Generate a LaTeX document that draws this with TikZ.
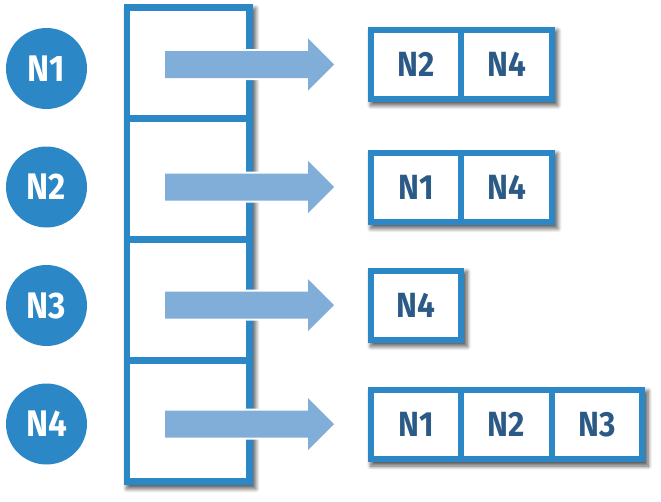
\documentclass[tikz,border=0pt]{standalone}
\usepackage{fontspec}
\setmainfont{Fira Sans}[FakeStretch=0.9]
\usetikzlibrary{shadows.blur, backgrounds}
\definecolor{lineblue}{HTML}{2B87C5}
\definecolor{textblue}{HTML}{2C5A87}
\definecolor{arrowblue}{HTML}{80AED8}
\tikzset{
  soft shadow/.style={blur shadow={shadow xshift=3pt, shadow yshift=-4pt,
      shadow blur radius=4pt, shadow blur steps=8, shadow opacity=65}},
  shadowbase/.style={fill=white, soft shadow},
  vertex/.style={circle, fill=lineblue, minimum size=81pt, inner sep=0pt,
      text=white, font=\fontsize{37}{37}\selectfont\bfseries},
  slot/.style={rectangle, draw=lineblue, line width=6.5pt, fill=white,
      minimum width=122.5pt, inner sep=0pt},
  entry/.style={rectangle, draw=lineblue, line width=6pt, fill=white,
      minimum width=90.5pt, minimum height=69pt, inner sep=0pt,
      text=textblue, font=\fontsize{35}{35}\selectfont\bfseries},
  blockarrow/.style={fill=arrowblue, preaction={draw=white, line width=4pt}}
}
\newcommand{\blockarrowfrom}[1]{%
  \path[blockarrow] (#1) ++(0,-13.5) -- ++(143,0) -- ++(0,-12.5) -- ++(26,26)
    -- ++(-26,26) -- ++(0,-12.5) -- ++(-143,0) -- cycle;}
\begin{document}
\begin{tikzpicture}[x=1pt, y=-1pt]
\useasboundingbox (0,0) rectangle (661,501);

% vertices
\node[vertex] (v1) at (46.5,68.5) {N1};
\node[vertex] (v2) at (46.5,187) {N2};
\node[vertex] (v3) at (46.5,305.5) {N3};
\node[vertex] (v4) at (46.5,424) {N4};

% array of list heads
\node[slot, minimum height=111pt] (s1) at (188.25,63) {};
\node[slot, minimum height=121pt] (s2) at (188.25,179) {};
\node[slot, minimum height=121pt] (s3) at (188.25,300) {};
\node[slot, minimum height=121pt] (s4) at (188.25,421) {};

% pointers from the slots to the lists
\coordinate (a1) at (165,64.5);
\coordinate (a2) at (165,187);
\coordinate (a3) at (165,305);
\coordinate (a4) at (165,424);
\blockarrowfrom{a1}
\blockarrowfrom{a2}
\blockarrowfrom{a3}
\blockarrowfrom{a4}

% adjacency lists
\node[entry] (l11) at (416,64) {N2};
\node[entry] (l12) at (506.5,64) {N4};

\node[entry] (l21) at (416,187) {N1};
\node[entry] (l22) at (506.5,187) {N4};

\node[entry] (l31) at (416,305) {N4};

\node[entry] (l41) at (416,424.5) {N1};
\node[entry] (l42) at (506.5,424.5) {N2};
\node[entry] (l43) at (597,424.5) {N3};

% one soft shadow under each group of boxes
\begin{scope}[on background layer]
  \path[shadowbase] (s1.north west) rectangle (s4.south east);
  \path[shadowbase] (l11.north west) rectangle (l12.south east);
  \path[shadowbase] (l21.north west) rectangle (l22.south east);
  \path[shadowbase] (l31.north west) rectangle (l31.south east);
  \path[shadowbase] (l41.north west) rectangle (l43.south east);
\end{scope}
\end{tikzpicture}
\end{document}
